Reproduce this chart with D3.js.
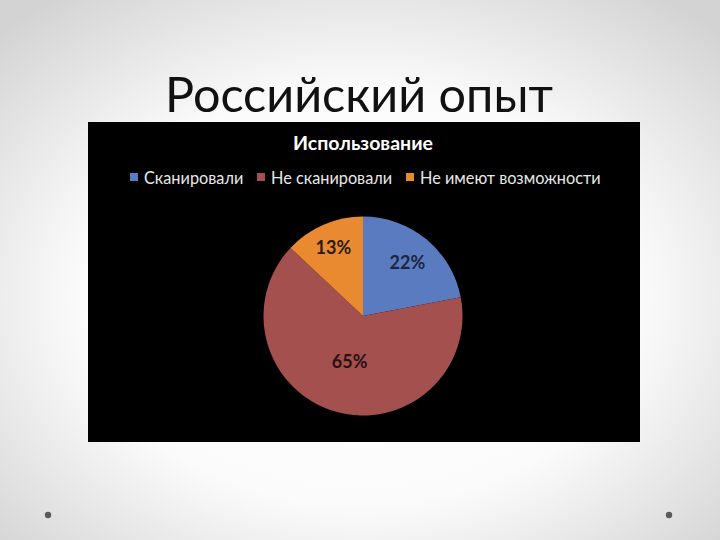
<!DOCTYPE html>
<html><head><meta charset="utf-8">
<script src="https://cdn.jsdelivr.net/npm/d3@7"></script>
<style>html,body{margin:0;padding:0;background:#fff;}svg{display:block;}</style>
</head><body>
<script>
const categories = ["Сканировали", "Не сканировали", "Не имеют возможности"];
const values = [22, 65, 13];
const labels = ["22%", "65%", "13%"];
const slideTitle = "Российский опыт";
const chartTitle = "Использование";

const colors = ["#5B7BC0", "#A4504F", "#E98A30"];
const labelColors = ["#1C2546", "#2A1212", "#2A1A08"];
const labelRadiusFrac = [0.70, 0.48, 0.75];

const W = 720, H = 540;
const svg = d3.select("body").append("svg").attr("width", W).attr("height", H);
const defs = svg.append("defs");
const grad = defs.append("radialGradient").attr("id", "bg")
  .attr("cx", "50%").attr("cy", "55%").attr("r", "70%");
grad.append("stop").attr("offset", "0%").attr("stop-color", "#ffffff");
grad.append("stop").attr("offset", "55%").attr("stop-color", "#fbfbfb");
grad.append("stop").attr("offset", "100%").attr("stop-color", "#d3d3d3");
svg.append("rect").attr("width", W).attr("height", H).attr("fill", "url(#bg)");

// decorative dots
[[48, 515], [669, 515]].forEach(p => {
  svg.append("circle").attr("cx", p[0]).attr("cy", p[1]).attr("r", 3.2).attr("fill", "#5a5a5a");
});

// slide title
svg.append("text").attr("x", 359).attr("y", 112).attr("text-anchor", "middle")
  .attr("font-family", "Lato, 'Open Sans', sans-serif").attr("font-size", 48.5)
  .attr("fill", "#111").text(slideTitle);

// chart area
const cx0 = 88, cy0 = 122, cw = 552, ch = 320;
svg.append("rect").attr("x", cx0).attr("y", cy0).attr("width", cw).attr("height", ch).attr("fill", "#000");

svg.append("text").attr("x", 363).attr("y", 150).attr("text-anchor", "middle")
  .attr("font-family", "Lato, sans-serif").attr("font-weight", "bold").attr("font-size", 19.5)
  .attr("fill", "#fff").text(chartTitle);

// legend
const legend = svg.append("g").attr("font-family", "Lato, sans-serif").attr("font-size", 16.3);
const legX = [130, 257, 406];
categories.forEach((c, i) => {
  legend.append("rect").attr("x", legX[i]).attr("y", 173).attr("width", 8).attr("height", 8).attr("fill", colors[i]);
  legend.append("text").attr("x", legX[i] + 14).attr("y", 183.5).attr("fill", "#e8e8e8").text(c);
});

// pie
const cx = 363, cy = 316, r = 99.5;
const pie = d3.pie().sort(null).value(d => d);
const arcs = pie(values);
const arc = d3.arc().innerRadius(0).outerRadius(r);
const g = svg.append("g").attr("transform", `translate(${cx},${cy})`);
g.selectAll("path").data(arcs).join("path").attr("d", arc).attr("fill", (d, i) => colors[i]);
g.selectAll("text.lbl").data(arcs).join("text").attr("class", "lbl")
  .attr("transform", (d, i) => {
    const lr = r * labelRadiusFrac[i];
    const c = d3.arc().innerRadius(lr).outerRadius(lr).centroid(d);
    return `translate(${c[0]},${c[1]})`;
  })
  .attr("text-anchor", "middle").attr("dy", "0.35em")
  .attr("font-family", "Lato, sans-serif").attr("font-weight", "bold").attr("font-size", 18)
  .attr("fill", (d, i) => labelColors[i]).text((d, i) => labels[i]);
</script>
</body></html>
